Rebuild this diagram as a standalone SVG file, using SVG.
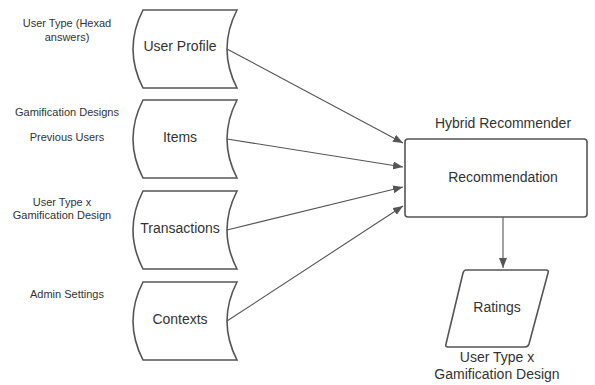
<svg xmlns="http://www.w3.org/2000/svg" width="595" height="385" viewBox="0 0 595 385">
<style>
.shape{fill:#fff;stroke:#555;stroke-width:1.6}
.conn{fill:none;stroke:#555;stroke-width:1.1}
.lbl{font-family:"Liberation Sans",Arial,sans-serif;font-size:14px;fill:#333;text-anchor:middle;dominant-baseline:central}
.sm{font-family:"Liberation Sans",Arial,sans-serif;font-size:11px;fill:#333;text-anchor:middle;dominant-baseline:central}
</style>
<defs>
<marker id="arr" viewBox="0 0 10 8" refX="10" refY="4" markerWidth="10" markerHeight="8" markerUnits="userSpaceOnUse" orient="auto">
<path d="M0,0 L10,4 L0,8 Z" fill="#555"/>
</marker>
</defs>
<rect width="595" height="385" fill="#fff"/>
<g id="connectors">
<line class="conn" x1="227" y1="49" x2="403" y2="143" marker-end="url(#arr)"/>
<line class="conn" x1="227" y1="139" x2="403" y2="167" marker-end="url(#arr)"/>
<line class="conn" x1="227" y1="230" x2="403" y2="187" marker-end="url(#arr)"/>
<line class="conn" x1="227" y1="321" x2="403" y2="206" marker-end="url(#arr)"/>
<line class="conn" x1="503" y1="217" x2="503" y2="268" marker-end="url(#arr)"/>
</g>
<g id="user-profile">
<path class="shape" d="M143,10 L237,10 Q217,49 237,88 L143,88 Q123,49 143,10 Z"/>
<text class="lbl" x="180" y="46">User Profile</text>
</g>
<g id="items">
<path class="shape" d="M143,100 L237,100 Q217,139 237,178 L143,178 Q123,139 143,100 Z"/>
<text class="lbl" x="180" y="137">Items</text>
</g>
<g id="transactions">
<path class="shape" d="M143,191 L237,191 Q217,230 237,269 L143,269 Q123,230 143,191 Z"/>
<text class="lbl" x="180" y="228">Transactions</text>
</g>
<g id="contexts">
<path class="shape" d="M143,282 L237,282 Q217,321 237,360 L143,360 Q123,321 143,282 Z"/>
<text class="lbl" x="180" y="319">Contexts</text>
</g>
<g id="recommendation">
<rect class="shape" x="405" y="139" width="182" height="78" rx="3"/>
<text class="lbl" x="503" y="123">Hybrid Recommender</text>
<text class="lbl" x="503" y="177">Recommendation</text>
</g>
<g id="ratings">
<path class="shape" d="M466,270 L546,270 Q549,270 548,273 L529,344 Q528,347 525,347 L448,347 Q445,347 446,344 L463,273 Q464,270 466,270 Z"/>
<text class="lbl" x="497" y="307">Ratings</text>
<text class="lbl" x="497" y="357">User Type x</text>
<text class="lbl" x="497" y="374">Gamification Design</text>
</g>
<g id="labels">
<text class="sm" x="67" y="23">User Type (Hexad</text>
<text class="sm" x="67" y="37">answers)</text>
<text class="sm" x="67" y="112">Gamification Designs</text>
<text class="sm" x="67" y="137">Previous Users</text>
<text class="sm" x="62" y="202">User Type x</text>
<text class="sm" x="62" y="215">Gamification Design</text>
<text class="sm" x="67" y="294">Admin Settings</text>
</g>
</svg>
